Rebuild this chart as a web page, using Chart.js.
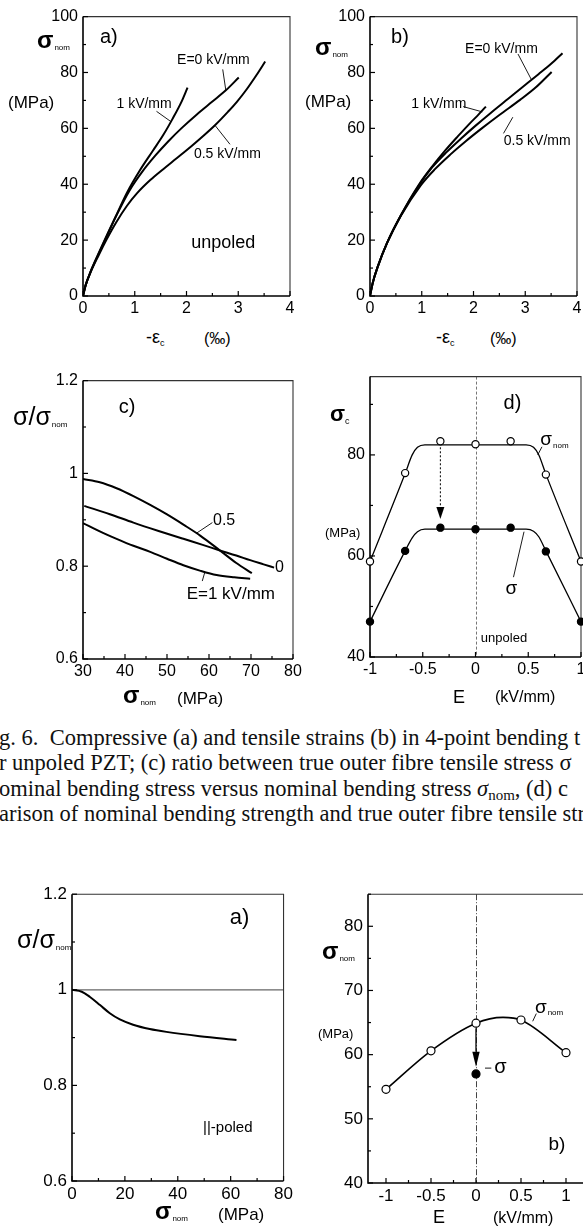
<!DOCTYPE html>
<html>
<head>
<meta charset="utf-8">
<script src="https://cdn.jsdelivr.net/npm/chart.js@4.4.1/dist/chart.umd.min.js"></script>
<style>
  html, body { margin: 0; padding: 0; background: #fff; overflow: hidden; }
  #page { position: relative; width: 583px; height: 1227px; overflow: hidden; background: #fff;
          font-family: 'Liberation Sans', Arial, sans-serif; color: #000; }
  .plot { position: absolute; }
  .plot canvas { display: block; }
  .t { position: absolute; white-space: nowrap; line-height: 1; }
  .s { font-weight: bold; }
  .nm { font-size: 8px; font-weight: normal; position: relative; top: 2px; margin-left: 1px; }
  .sc { font-size: 9px; font-weight: normal; position: relative; top: 3px; }
  .cap { position: absolute; white-space: nowrap; line-height: 1; color: #111;
         font-family: 'Liberation Serif', 'Times New Roman', serif; font-size: 22.5px; }
  .cap .sb { font-size: 15px; position: relative; top: 4px; }
</style>
</head>
<body>
<div id="page">
  <div class="plot" id="pa"><canvas></canvas></div>
  <div class="plot" id="pb"><canvas></canvas></div>
  <div class="plot" id="pc"><canvas></canvas></div>
  <div class="plot" id="pd"><canvas></canvas></div>
  <div class="plot" id="pe"><canvas></canvas></div>
  <div class="plot" id="pf"><canvas></canvas></div>

  <!-- axis titles, panel a -->
  <div class="t s" style="left:37px;top:28px;font-size:24px">σ<span class="nm">nom</span></div>
  <div class="t" style="left:8px;top:94px;font-size:17px">(MPa)</div>
  <div class="t" style="left:146px;top:328px;font-size:18px">-ε<span class="sc">c</span></div>
  <div class="t" style="left:204px;top:331px;font-size:16px">(‰)</div>
  <!-- panel b -->
  <div class="t s" style="left:315px;top:35px;font-size:24px">σ<span class="nm">nom</span></div>
  <div class="t" style="left:305px;top:93px;font-size:17px">(MPa)</div>
  <div class="t" style="left:436px;top:328px;font-size:18px">-ε<span class="sc">c</span></div>
  <div class="t" style="left:490px;top:331px;font-size:16px">(‰)</div>
  <!-- panel c -->
  <div class="t" style="left:13px;top:404px;font-size:25px">σ/σ<span class="nm">nom</span></div>
  <div class="t s" style="left:123px;top:683px;font-size:24px">σ<span class="nm">nom</span></div>
  <div class="t" style="left:177px;top:690px;font-size:17px">(MPa)</div>
  <!-- panel d -->
  <div class="t s" style="left:330px;top:403px;font-size:22px">σ<span class="sc">c</span></div>
  <div class="t" style="left:325px;top:526px;font-size:13px">(MPa)</div>
  <div class="t" style="left:453px;top:688px;font-size:18px">E</div>
  <div class="t" style="left:495px;top:689px;font-size:16px">(kV/mm)</div>

  <!-- figure caption -->
  <div class="cap" style="left:-1px;top:727px">g. 6.&nbsp; Compressive (a) and tensile strains (b) in 4-point bending t</div>
  <div class="cap" style="left:-1px;top:752px">r unpoled PZT; (c) ratio between true outer fibre tensile stress σ</div>
  <div class="cap" style="left:-1px;top:778px">ominal bending stress versus nominal bending stress <i>σ</i><span class="sb">nom</span>, (d) c</div>
  <div class="cap" style="left:-1px;top:803px">arison of nominal bending strength and true outer fibre tensile str</div>

  <!-- lower figure, panel a -->
  <div class="t" style="left:17px;top:927px;font-size:25px">σ/σ<span class="nm">nom</span></div>
  <div class="t s" style="left:155px;top:1199px;font-size:24px">σ<span class="nm">nom</span></div>
  <div class="t" style="left:218px;top:1206px;font-size:17px">(MPa)</div>
  <!-- lower figure, panel b -->
  <div class="t s" style="left:322px;top:939px;font-size:24px">σ<span class="nm">nom</span></div>
  <div class="t" style="left:318px;top:1027px;font-size:13px">(MPa)</div>
  <div class="t" style="left:433px;top:1208px;font-size:18px">E</div>
  <div class="t" style="left:493px;top:1210px;font-size:16px">(kV/mm)</div>
</div>

<script>
// ---------- (a) compressive strain vs nominal stress, unpoled ----------
const aStrainE0  = [0, 0.05, 0.15, 0.3, 0.45, 0.64, 0.9, 1.15, 1.4, 1.65, 1.9, 2.2, 2.5, 2.76, 3.01];
const aStressE0  = [0, 3.8, 8.8, 15, 21, 28.6, 37.8, 44.6, 50.3, 55.4, 60, 65, 69.6, 73.6, 78.2];
const aStrainE05 = [0, 0.05, 0.15, 0.3, 0.45, 0.64, 0.85, 1.05, 1.3, 1.55, 1.81, 2.1, 2.35, 2.55, 2.8, 2.97, 3.16, 3.35, 3.52];
const aStressE05 = [0, 3.8, 8.6, 14.5, 20, 26.3, 32.3, 36.9, 41.5, 45.4, 49.3, 53.7, 57.7, 61.1, 65.9, 69.4, 73.9, 79.0, 83.9];
const aStrainE1  = [0, 0.05, 0.15, 0.3, 0.45, 0.62, 0.85, 1.1, 1.35, 1.55, 1.73, 1.9, 2.02];
const aStressE1  = [0, 3.8, 8.9, 15.2, 21.3, 28, 37, 45, 52, 57.6, 63.4, 69.4, 74.6];

// ---------- (b) tensile strain vs nominal stress ----------
const bStrainE0  = [0, 0.05, 0.15, 0.33, 0.6, 0.96, 1.2, 1.48, 1.75, 2.03, 2.35, 2.67, 2.95, 3.25, 3.5, 3.72];
const bStressE0  = [0, 4.5, 10.5, 19, 29, 40, 46, 51.5, 56.2, 60.8, 65.8, 70.6, 74.8, 79.3, 83.1, 86.9];
const bStrainE05 = [0, 0.05, 0.15, 0.33, 0.6, 0.98, 1.25, 1.55, 1.85, 2.16, 2.5, 2.9, 3.2, 3.51];
const bStressE05 = [0, 4.5, 10.5, 19, 28.8, 39.6, 45.3, 50.6, 55.4, 60, 64.8, 70.2, 74.6, 80.2];
const bStrainE1  = [0, 0.05, 0.15, 0.33, 0.6, 0.95, 1.2, 1.45, 1.7, 1.93, 2.1, 2.24];
const bStressE1  = [0, 4.5, 10.5, 19, 29, 40, 46.3, 52, 57.2, 61.8, 65, 67.8];

// ---------- (c) stress ratio vs nominal stress ----------
const cNomE0   = [30.3, 36.4, 42, 48, 53.9, 58.5, 62.6, 66.5, 69.8, 73, 75.5];
const cRatioE0 = [0.930, 0.912, 0.894, 0.876, 0.859, 0.846, 0.834, 0.823, 0.813, 0.804, 0.797];
const cNomE05   = [30, 34, 38, 42, 46, 49.9, 54, 57.9, 62.6, 66.5, 70.2];
const cRatioE05 = [0.988, 0.981, 0.968, 0.951, 0.932, 0.912, 0.889, 0.866, 0.834, 0.807, 0.785];
const cNomE1   = [30, 34, 38, 42, 46, 50, 53.9, 58, 61.8, 66, 69.8];
const cRatioE1 = [0.893, 0.875, 0.859, 0.844, 0.831, 0.816, 0.802, 0.790, 0.781, 0.776, 0.773];

// ---------- (d) strength vs field ----------
const dField    = [-1, -0.667, -0.333, 0, 0.333, 0.667, 1];
const dNominal  = [58.9, 76.4, 82.7, 82.1, 82.7, 76.1, 58.9];
const dTrue     = [47.0, 61.0, 65.6, 65.3, 65.6, 60.9, 47.0];
const dFitField = [-1, -0.667, -0.6, -0.55, -0.48, 0.48, 0.55, 0.6, 0.667, 1];
const dFitNom   = [58.9, 76.3, 80.0, 81.5, 82.0, 82.0, 81.5, 80.0, 76.2, 58.9];
const dFitTrue  = [47.0, 61.0, 63.6, 64.8, 65.3, 65.3, 64.9, 63.8, 61.0, 47.0];

// ---------- lower figure (a): ||-poled stress ratio ----------
const eNom   = [0, 3.7, 6.8, 10.6, 14.3, 18.1, 23.1, 29.4, 35.7, 48.3, 62.2];
const eRatio = [1.0, 0.996, 0.985, 0.968, 0.951, 0.938, 0.927, 0.918, 0.912, 0.903, 0.895];

// ---------- lower figure (b): strength vs field ----------
const fField    = [-1, -0.5, 0, 0.5, 1];
const fNominal  = [54.6, 60.6, 64.9, 65.4, 60.3];
const fTrueField = [0];
const fTrue     = [57.0];
const fFitField = [-1, -0.5, 0, 0.3, 0.5, 1];
const fFitNom   = [54.6, 60.6, 64.9, 65.8, 65.4, 60.3];

// ---------- tick labels ----------
const strainTicks = [0, 1, 2, 3, 4];
const stressTicks = [0, 20, 40, 60, 80, 100];
const cXTicks = [30, 40, 50, 60, 70, 80];
const ratioTicks = [0.6, 0.8, 1, 1.2];
const dXTicks = [-1, -0.5, 0, 0.5, 1];
const dYTicks = [40, 60, 80];
const eXTicks = [0, 20, 40, 60, 80];
const fXTicks = [-1, -0.5, 0, 0.5, 1];
const fYTicks = [40, 50, 60, 70, 80];

const FONT = "'Liberation Sans', Arial, sans-serif";
const pts = (xs, ys) => xs.map((v, i) => ({ x: v, y: ys[i] }));

function curve(xs, ys, width) {
  return { data: pts(xs, ys), showLine: true, pointRadius: 0, borderColor: '#000',
           borderWidth: width || 2, cubicInterpolationMode: 'monotone', fill: false };
}
function markers(xs, ys, filled, r) {
  return { data: pts(xs, ys), showLine: false, pointRadius: r || 3.6, pointBorderWidth: 1.2,
           pointBorderColor: '#000', pointBackgroundColor: filled ? '#000' : '#fff', clip: false };
}

function axis(s, which) {
  return {
    type: 'linear', min: s.min, max: s.max,
    grid: { display: false, drawTicks: false }, border: { display: false },
    ticks: {
      stepSize: s.step, autoSkip: false, includeBounds: false, maxRotation: 0, minRotation: 0,
      padding: which === 'y' ? 5 : 3, color: '#000', font: { family: FONT, size: s.font || 16 },
      callback: (v) => {
        const m = s.labels.find(l => Math.abs(l - v) < 1e-6);
        return m === undefined ? '' : String(m);
      }
    },
    afterFit: (scale) => { if (which === 'y') scale.width = 40; else scale.height = 24; }
  };
}

// box, inward ticks, reference lines, leader lines, arrows and in-plot labels
function decor(d) {
  return {
    id: 'decor',
    beforeDatasetsDraw(chart) {
      const { ctx, chartArea: a, scales: { x, y } } = chart;
      ctx.save();
      (d.vlines || []).forEach(v => {
        ctx.strokeStyle = v.color; ctx.lineWidth = 1; ctx.setLineDash(v.dash);
        const px = Math.round(x.getPixelForValue(v.at)) + 0.5;
        ctx.beginPath(); ctx.moveTo(px, a.top); ctx.lineTo(px, a.bottom); ctx.stroke();
      });
      ctx.setLineDash([]);
      (d.hlines || []).forEach(h => {
        ctx.strokeStyle = h.color; ctx.lineWidth = h.width;
        const py = y.getPixelForValue(h.at);
        ctx.beginPath(); ctx.moveTo(a.left, py); ctx.lineTo(a.right, py); ctx.stroke();
      });
      // frame
      ctx.strokeStyle = '#333'; ctx.lineWidth = 1.1;
      ctx.beginPath(); ctx.moveTo(a.left, a.top); ctx.lineTo(a.right, a.top); ctx.lineTo(a.right, a.bottom); ctx.stroke();
      ctx.strokeStyle = '#000'; ctx.lineWidth = 1.6;
      ctx.beginPath(); ctx.moveTo(a.left, a.top); ctx.lineTo(a.left, a.bottom); ctx.lineTo(a.right, a.bottom); ctx.stroke();
      // inward ticks
      ctx.lineWidth = 1.2;
      x.ticks.forEach(t => {
        const px = x.getPixelForValue(t.value);
        const len = t.label !== '' ? 5 : 3;
        ctx.beginPath(); ctx.moveTo(px, a.bottom); ctx.lineTo(px, a.bottom - len); ctx.stroke();
      });
      y.ticks.forEach(t => {
        const py = y.getPixelForValue(t.value);
        const len = t.label !== '' ? 5 : 3;
        ctx.beginPath(); ctx.moveTo(a.left, py); ctx.lineTo(a.left + len, py); ctx.stroke();
      });
      ctx.restore();
    },
    afterDatasetsDraw(chart) {
      const { ctx, scales: { x, y } } = chart;
      ctx.save();
      ctx.strokeStyle = '#000'; ctx.fillStyle = '#000';
      (d.leaders || []).forEach(l => {
        ctx.lineWidth = 0.9;
        ctx.beginPath();
        ctx.moveTo(x.getPixelForValue(l[0]), y.getPixelForValue(l[1]));
        ctx.lineTo(x.getPixelForValue(l[2]), y.getPixelForValue(l[3]));
        ctx.stroke();
      });
      (d.arrows || []).forEach(ar => {
        const px = x.getPixelForValue(ar.x);
        const p0 = y.getPixelForValue(ar.from) + ar.offset;
        const tip = y.getPixelForValue(ar.to);
        const base = tip - ar.head;
        ctx.lineWidth = ar.width; ctx.setLineDash(ar.dash);
        ctx.beginPath(); ctx.moveTo(px, p0); ctx.lineTo(px, base); ctx.stroke();
        ctx.setLineDash([]);
        ctx.beginPath(); ctx.moveTo(px - ar.half, base); ctx.lineTo(px + ar.half, base); ctx.lineTo(px, tip);
        ctx.closePath(); ctx.fill();
      });
      (d.texts || []).forEach(tx => {
        ctx.font = `${tx.size}px ${FONT}`;
        ctx.textBaseline = 'middle';
        const px = x.getPixelForValue(tx.x), py = y.getPixelForValue(tx.y);
        const w = ctx.measureText(tx.t).width;
        const left = tx.align === 'left' ? px : px - w / 2;
        ctx.textAlign = 'left';
        ctx.fillText(tx.t, left, py);
        if (tx.sub) {
          ctx.font = `${tx.subSize || 8}px ${FONT}`;
          ctx.fillText(tx.sub, left + w + 1, py + tx.size * 0.28);
        }
      });
      ctx.restore();
    }
  };
}

function makeChart(id, area, xs, ys, datasets, deco) {
  const wrap = document.getElementById(id);
  wrap.style.left = (area.l - 40) + 'px';
  wrap.style.top = (area.t - 10) + 'px';
  wrap.style.width = (area.w + 52) + 'px';
  wrap.style.height = (area.h + 34) + 'px';
  return new Chart(wrap.querySelector('canvas'), {
    type: 'scatter',
    data: { datasets },
    options: {
      animation: false, responsive: true, maintainAspectRatio: false, events: [],
      layout: { padding: { left: 0, top: 10, right: 12, bottom: 0 } },
      plugins: { legend: { display: false }, tooltip: { enabled: false } },
      scales: { x: axis(xs, 'x'), y: axis(ys, 'y') }
    },
    plugins: [decor(deco)]
  });
}

// (a)
makeChart('pa', { l: 83, t: 12, w: 207, h: 284 },
  { min: 0, max: 4, step: 0.5, labels: strainTicks },
  { min: 0, max: 100, step: 10, labels: stressTicks },
  [curve(aStrainE0, aStressE0), curve(aStrainE05, aStressE05), curve(aStrainE1, aStressE1)],
  {
    texts: [
      { x: 0.50, y: 92.6, t: 'a)', size: 20 },
      { x: 2.52, y: 84.5, t: 'E=0 kV/mm', size: 14 },
      { x: 1.18, y: 68.7, t: '1 kV/mm', size: 14 },
      { x: 2.79, y: 50.7, t: '0.5 kV/mm', size: 14 },
      { x: 2.71, y: 19, t: 'unpoled', size: 18 }
    ],
    leaders: [[2.70, 81.1, 2.76, 73.6], [1.42, 66.1, 1.70, 62.4], [2.55, 61.1, 2.84, 54.3]]
  });

// (b)
makeChart('pb', { l: 370, t: 12, w: 207, h: 284 },
  { min: 0, max: 4, step: 0.5, labels: strainTicks },
  { min: 0, max: 100, step: 10, labels: stressTicks },
  [curve(bStrainE0, bStressE0), curve(bStrainE05, bStressE05), curve(bStrainE1, bStressE1)],
  {
    texts: [
      { x: 0.58, y: 92.6, t: 'b)', size: 20 },
      { x: 2.54, y: 88.4, t: 'E=0 kV/mm', size: 14 },
      { x: 1.33, y: 68.7, t: '1 kV/mm', size: 14 },
      { x: 3.23, y: 55.6, t: '0.5 kV/mm', size: 14 }
    ],
    leaders: [[2.86, 86.6, 3.12, 77.4], [1.80, 67.8, 2.17, 65.9], [2.58, 58.2, 2.76, 64.0]]
  });

// (c)
makeChart('pc', { l: 83, t: 376, w: 210, h: 283 },
  { min: 30, max: 80, step: 5, labels: cXTicks },
  { min: 0.6, max: 1.2, step: 0.1, labels: ratioTicks },
  [curve(cNomE0, cRatioE0), curve(cNomE05, cRatioE05), curve(cNomE1, cRatioE1)],
  {
    texts: [
      { x: 40.5, y: 1.143, t: 'c)', size: 20 },
      { x: 63.6, y: 0.899, t: '0.5', size: 16 },
      { x: 75.7, y: 0.797, t: '0', size: 16, align: 'left' },
      { x: 65.2, y: 0.739, t: 'E=1 kV/mm', size: 17 }
    ],
    leaders: [[57.0, 0.871, 60.8, 0.894], [58.4, 0.768, 59.0, 0.787]]
  });

// (d)
makeChart('pd', { l: 370, t: 372, w: 211, h: 285 },
  { min: -1, max: 1, step: 0.25, labels: dXTicks },
  { min: 40, max: 95.5, step: 10, labels: dYTicks },
  [markers(dField, dNominal, false), markers(dField, dTrue, true),
   curve(dFitField, dFitNom, 1.3), curve(dFitField, dFitTrue, 1.3)],
  {
    vlines: [{ at: 0, dash: [3, 2], color: '#777' }],
    texts: [
      { x: 0.35, y: 90.1, t: 'd)', size: 20 },
      { x: 0.67, y: 82.9, t: 'σ', size: 19, sub: 'nom', subSize: 8 },
      { x: 0.34, y: 53.6, t: 'σ', size: 19 },
      { x: 0.27, y: 43.7, t: 'unpoled', size: 13 }
    ],
    leaders: [[0.59, 80.0, 0.63, 81.6], [0.36, 55.8, 0.46, 64.8]],
    arrows: [{ x: -0.333, from: 82.7, offset: 6, to: 67.3, head: 12, half: 4, width: 1, dash: [2, 2] }]
  });

// lower (a)
makeChart('pe', { l: 72, t: 889, w: 212, h: 292 },
  { min: 0, max: 80, step: 10, labels: eXTicks, font: 17 },
  { min: 0.6, max: 1.2, step: 0.1, labels: ratioTicks, font: 17 },
  [curve(eNom, eRatio)],
  {
    hlines: [{ at: 1, color: '#666', width: 1.2 }],
    texts: [
      { x: 63.4, y: 1.151, t: 'a)', size: 22 },
      { x: 58.9, y: 0.711, t: '||-poled', size: 15 }
    ]
  });

// lower (b)
makeChart('pf', { l: 368, t: 889, w: 216, h: 294 },
  { min: -1.2, max: 1.2, step: 0.25, labels: fXTicks, font: 17 },
  { min: 40, max: 85, step: 5, labels: fYTicks, font: 17 },
  [markers(fField, fNominal, false, 4), markers(fTrueField, fTrue, true, 4),
   curve(fFitField, fFitNom, 1.6)],
  {
    vlines: [{ at: 0, dash: [6, 2, 1, 2], color: '#444' }],
    texts: [
      { x: 0.72, y: 67.3, t: 'σ', size: 19, sub: 'nom', subSize: 8 },
      { x: 0.27, y: 58.0, t: 'σ', size: 20 },
      { x: 0.9, y: 46, t: 'b)', size: 19 }
    ],
    leaders: [[0.63, 65.2, 0.67, 66.4], [0.1, 57.9, 0.17, 57.9]],
    arrows: [{ x: 0, from: 64.9, offset: 5, to: 58.1, head: 15, half: 3.7, width: 1.3, dash: [] }]
  });
</script>
</body>
</html>
